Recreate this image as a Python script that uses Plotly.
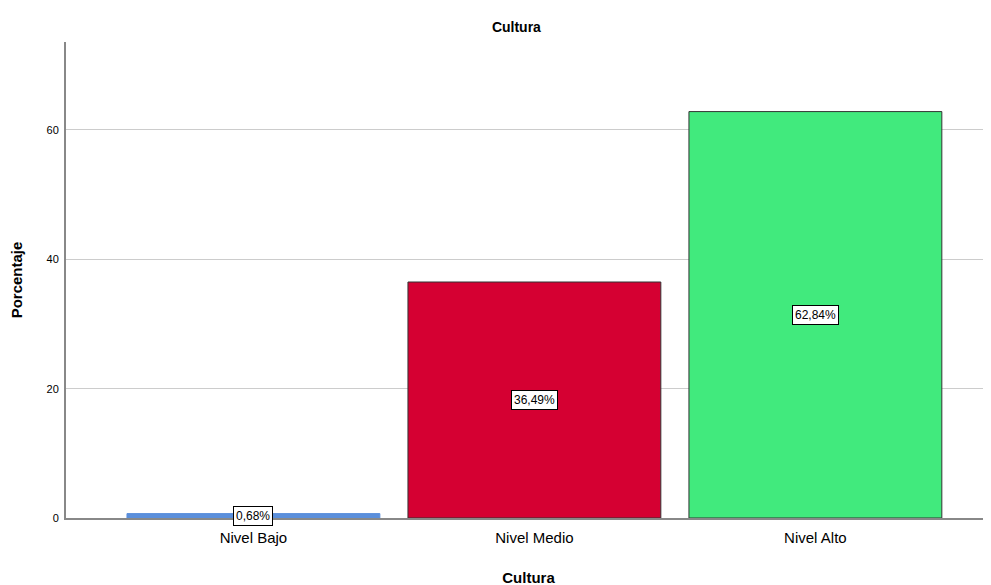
import plotly.graph_objects as go

categories = ["Nivel Bajo", "Nivel Medio", "Nivel Alto"]
values = [0.68, 36.49, 62.84]
labels = ["0,68%", "36,49%", "62,84%"]
colors = ["#5B8FDB", "#D50032", "#41EA7D"]
line_colors = ["#5B8FDB", "#333333", "#333333"]
y_ticks = [0, 20, 40, 60]

fig = go.Figure()
fig.add_trace(go.Bar(
    x=categories, y=values,
    marker=dict(color=colors, line=dict(color=line_colors, width=1)),
    width=0.9, showlegend=False, hoverinfo="skip",
))
for c, v, t in zip(categories, values, labels):
    fig.add_annotation(x=c, y=v / 2, text=t, showarrow=False,
                       font=dict(family="Liberation Sans, Arial", size=12, color="black"),
                       bgcolor="white", bordercolor="black", borderwidth=1, borderpad=2)

fig.update_layout(
    width=991, height=585,
    margin=dict(l=58, r=8, t=34, b=75),
    paper_bgcolor="white", plot_bgcolor="white",
    font=dict(family="Liberation Sans, Arial", color="black"),
    title=dict(text="<b>Cultura</b>", x=0.513, xanchor="center", y=0.967, yanchor="middle",
               font=dict(size=14)),
    xaxis=dict(range=[-0.667, 2.625], showgrid=False, showline=True, linecolor="#888888",
               linewidth=2, ticks="", tickfont=dict(size=15), automargin=False,
               ticklabelstandoff=5,
               title=dict(text="<b>Cultura</b>", font=dict(size=15), standoff=27)),
    yaxis=dict(range=[0, 73.6], tickvals=y_ticks, showgrid=True, gridcolor="#CCCCCC",
               gridwidth=1, showline=True, linecolor="#888888", linewidth=2, ticks="",
               tickfont=dict(size=11), zeroline=False, automargin=False,
               ticklabelstandoff=3,
               title=dict(text="<b>Porcentaje</b>", font=dict(size=15), standoff=20)),
)
fig.write_html("out.html")
